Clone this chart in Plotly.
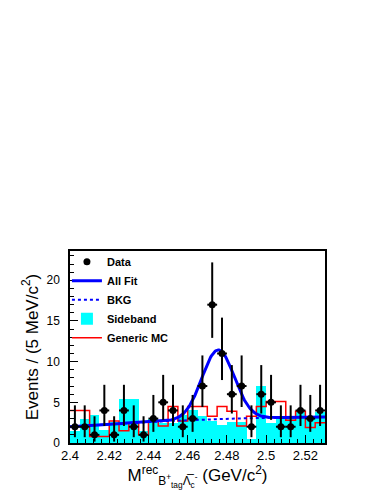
import numpy as np
import plotly.graph_objects as go

# bin centres (5 MeV bins from 2.40 to 2.53 GeV/c^2)
bin_lo = 2.40
bin_w = 0.005
data_counts = [2, 2, 1, 4, 1, 4, 2, 1, 3, 5, 4, 2, 3, 7, 17, 11, 6, 7, 2, 6, 5, 2, 2, 4, 3, 4]
sideband = [1.5, 3.0, 3.4, 1.6, 2.6, 5.4, 5.4, 1.5, 2.9, 2.4, 2.4, 3.5, 4.1, 3.3, 2.7,
            2.2, 2.6, 2.6, 0.5, 7.0, 2.5, 3.3, 3.3, 3.9, 3.3, 3.8]
generic_mc = [4.0, 4.0, 0.8, 0.8, 2.7, 1.5, 2.5, 1.0, 2.7, 2.1, 4.5, 2.7, 4.5, 4.5, 3.3,
              4.5, 3.9, 2.1, 3.3, 4.5, 5.1, 5.1, 2.8, 3.9, 1.9, 2.5]

# fit parameters (gaussian signal + 2nd order polynomial background)
sig_mean, sig_sigma, sig_amp = 2.4755, 0.0082, 8.5
bkg_c = [2.0, 16.98, -59.6]

n = np.array(data_counts, dtype=float)
centers = bin_lo + bin_w * (np.arange(len(n)) + 0.5)

# Garwood-style poisson errors (Wilson-Hilferty approx)
lo = n * (1 - 1 / (9 * n) - 1 / (3 * np.sqrt(n))) ** 3
hi = (n + 1) * (1 - 1 / (9 * (n + 1)) + 1 / (3 * np.sqrt(n + 1))) ** 3
err_minus = n - lo
err_plus = hi - n

xf = np.linspace(2.40, 2.53, 400)
bkg = bkg_c[0] + bkg_c[1] * (xf - 2.4) + bkg_c[2] * (xf - 2.4) ** 2
allfit = bkg + sig_amp * np.exp(-0.5 * ((xf - sig_mean) / sig_sigma) ** 2)

edges = np.append(centers - bin_w / 2, centers[-1] + bin_w / 2)
mc_steps = np.append(generic_mc, generic_mc[-1])

FONT = "Liberation Sans, Arial, Helvetica, sans-serif"

fig = go.Figure()
fig.add_trace(go.Bar(x=centers, y=sideband, width=bin_w, name="<b>Sideband</b>",
                     marker=dict(color="#00FFFF", line=dict(width=0)), legendrank=4))
fig.add_trace(go.Scatter(x=edges, y=mc_steps, mode="lines", line_shape="hv",
                         line=dict(color="#FF0000", width=1.5), name="<b>Generic MC</b>",
                         legendrank=5))
fig.add_trace(go.Scatter(x=xf, y=bkg, mode="lines", line=dict(color="#0000FF", width=2, dash="dot"),
                         name="<b>BKG</b>", legendrank=3))
fig.add_trace(go.Scatter(x=xf, y=allfit, mode="lines", line=dict(color="#0000FF", width=3),
                         name="<b>All Fit</b>", legendrank=2))
fig.add_trace(go.Scatter(
    x=centers, y=n, mode="markers", name="<b>Data</b>", legendrank=1,
    marker=dict(color="black", size=7),
    error_y=dict(type="data", symmetric=False, array=err_plus, arrayminus=err_minus,
                 color="black", thickness=2, width=0),
    error_x=dict(type="constant", value=bin_w / 2, color="black", thickness=2, width=0),
))

# page body adds an 8px offset, so margins are shifted to compensate
fig.update_layout(
    width=382, height=494,
    margin=dict(l=62, r=65, t=243, b=59),
    paper_bgcolor="white", plot_bgcolor="white",
    font=dict(family=FONT, color="black", size=12),
    bargap=0,
    showlegend=True,
    legend=dict(x=-0.012, y=1.02, xanchor="left", yanchor="top", bgcolor="rgba(0,0,0,0)",
                font=dict(size=11), itemwidth=30, tracegroupgap=0),
)
fig.update_xaxes(
    range=[2.40, 2.53], dtick=0.02, tick0=2.4, ticks="inside", ticklen=8, tickcolor="black",
    minor=dict(dtick=0.004, ticks="inside", ticklen=4, tickcolor="black"),
    showline=True, linecolor="black", linewidth=1.5, mirror=True, showgrid=False, zeroline=False,
    tickfont=dict(size=13), automargin=False,
    title=dict(text="M<sup>rec</sup><sub>B<sup>+</sup><sub>tag</sub>Λ̅<sub>c</sub><sup>-</sup></sub> (GeV/c<sup>2</sup>)",
               font=dict(size=17), standoff=2),
)
fig.update_yaxes(
    range=[0, 23.6], dtick=5, ticks="inside", ticklen=8, tickcolor="black",
    minor=dict(dtick=1, ticks="inside", ticklen=4, tickcolor="black"),
    showline=True, linecolor="black", linewidth=1.5, mirror=True, showgrid=False, zeroline=False,
    tickfont=dict(size=12), ticklabelstandoff=6, automargin=False,
    title=dict(text="Events / (5 MeV/c<sup>2</sup>)", font=dict(size=17), standoff=4),
)

fig.write_html("out.html")
